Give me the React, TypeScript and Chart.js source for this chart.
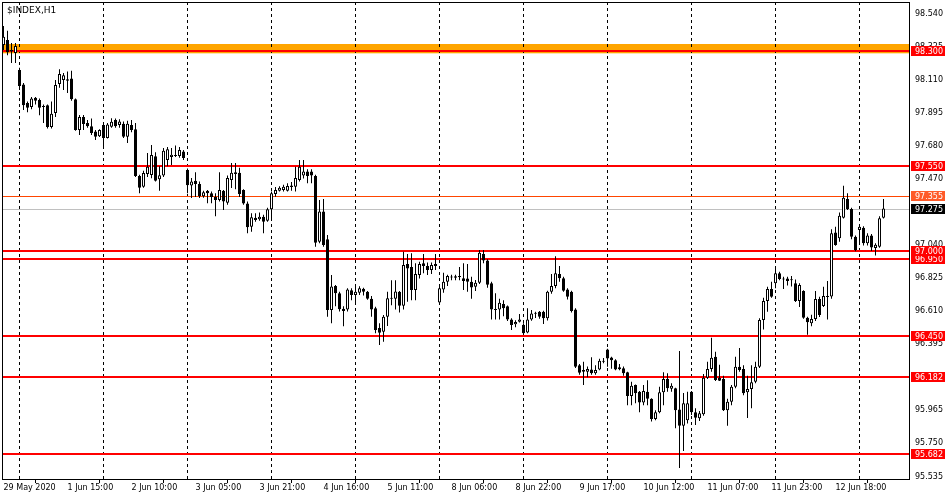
import React, { useEffect, useRef } from "react";
import { Chart, registerables } from "chart.js";

Chart.register(...registerables);

const chartTitle = "$INDEX,H1";

// Hourly candles (H1), oldest first
const opens = [
  98.337, 98.37, 98.305, 98.285, 98.175, 98.08, 97.96, 97.935, 97.995, 97.98,
  97.94, 97.945, 97.805, 97.895, 98.084, 98.11, 98.115, 98.12, 97.985, 97.785,
  97.87, 97.83, 97.81, 97.775, 97.745, 97.817, 97.733, 97.806, 97.85, 97.817,
  97.825, 97.742, 97.817, 97.79, 97.487, 97.417, 97.5, 97.493, 97.615, 97.466,
  97.49, 97.59, 97.61, 97.617, 97.617, 97.645, 97.525, 97.425, 97.455, 97.435,
  97.355, 97.39, 97.375, 97.35, 97.33, 97.39, 97.312, 97.46, 97.51, 97.507,
  97.395, 97.308, 97.157, 97.215, 97.205, 97.222, 97.195, 97.27, 97.37, 97.39,
  97.395, 97.39, 97.415, 97.417, 97.46, 97.49, 97.515, 97.515, 97.487, 97.06,
  97.255, 97.075, 96.616, 96.772, 96.725, 96.625, 96.62, 96.745, 96.713, 96.728,
  96.755, 96.735, 96.69, 96.627, 96.5, 96.475, 96.573, 96.69, 96.69, 96.735,
  96.643, 96.915, 96.895, 96.746, 96.843, 96.92, 96.902, 96.876, 96.915, 96.665,
  96.75, 96.8, 96.83, 96.835, 96.832, 96.822, 96.82, 96.8, 96.767, 96.793,
  96.98, 96.937, 96.79, 96.617, 96.62, 96.655, 96.64, 96.555, 96.523, 96.54,
  96.52, 96.47, 96.555, 96.592, 96.605, 96.605, 96.562, 96.735, 96.772, 96.85,
  96.822, 96.75, 96.735, 96.62, 96.258, 96.226, 96.215, 96.23, 96.205, 96.23,
  96.28, 96.36, 96.308, 96.29, 96.245, 96.238, 96.212, 96.058, 96.13, 96.085,
  96.015, 96.085, 96.04, 95.908, 95.952, 96.082, 96.168, 96.105, 96.108, 95.97,
  95.865, 95.9, 96.085, 95.952, 95.913, 95.94, 96.176, 96.233, 96.313, 96.176,
  96.168, 95.966, 96.02, 96.118, 96.248, 96.233, 96.082, 96.103, 96.15, 96.248,
  96.551, 96.675, 96.752, 96.79, 96.855, 96.818, 96.82, 96.81, 96.79, 96.675,
  96.74, 96.566, 96.53, 96.557, 96.688, 96.642, 96.7, 96.704, 97.12, 97.082,
  97.215, 97.337, 97.272, 97.092, 97.135, 97.15, 97.05, 97.1, 97.018, 97.027,
  97.215,
];

const highs = [
  98.46, 98.43, 98.35, 98.35, 98.19, 98.09, 97.97, 98.0, 98.0, 97.99,
  97.95, 97.95, 97.97, 98.11, 98.18, 98.155, 98.165, 98.17, 97.99, 97.883,
  97.883, 97.85, 97.86, 97.785, 97.79, 97.825, 97.83, 97.862, 97.86, 97.855,
  97.84, 97.845, 97.85, 97.83, 97.495, 97.52, 97.635, 97.688, 97.64, 97.55,
  97.668, 97.675, 97.668, 97.685, 97.675, 97.655, 97.535, 97.473, 97.51, 97.45,
  97.39, 97.395, 97.385, 97.375, 97.51, 97.395, 97.49, 97.57, 97.57, 97.54,
  97.4, 97.32, 97.245, 97.245, 97.25, 97.235, 97.28, 97.385, 97.415, 97.42,
  97.43, 97.44, 97.447, 97.547, 97.59, 97.59, 97.53, 97.53, 97.495, 97.33,
  97.337, 97.103, 96.843, 96.778, 96.735, 96.64, 96.757, 96.757, 96.765, 96.77,
  96.76, 96.74, 96.707, 96.637, 96.53, 96.583, 96.735, 96.81, 96.81, 96.74,
  96.995, 96.98, 96.985, 96.92, 96.93, 96.98, 96.925, 96.925, 96.98, 96.765,
  96.858, 96.845, 96.845, 96.845, 96.895, 96.92, 96.915, 96.832, 96.811, 97.006,
  97.006, 96.945, 96.8, 96.725, 96.69, 96.68, 96.645, 96.562, 96.55, 96.59,
  96.53, 96.627, 96.616, 96.605, 96.61, 96.612, 96.742, 96.85, 96.966, 96.902,
  96.832, 96.757, 96.742, 96.627, 96.265, 96.28, 96.25, 96.31, 96.258, 96.3,
  96.305, 96.365, 96.312, 96.297, 96.265, 96.25, 96.215, 96.15, 96.133, 96.09,
  96.13, 96.16, 96.043, 95.965, 96.118, 96.212, 96.205, 96.14, 96.112, 96.35,
  96.078, 96.085, 96.09, 95.978, 95.96, 96.2, 96.28, 96.436, 96.345, 96.26,
  96.19, 96.04, 96.13, 96.313, 96.37, 96.258, 96.19, 96.258, 96.28, 96.562,
  96.696, 96.767, 96.8, 96.898, 96.865, 96.832, 96.832, 96.837, 96.815, 96.79,
  96.745, 96.573, 96.585, 96.74, 96.703, 96.767, 96.805, 97.14, 97.157, 97.25,
  97.423, 97.374, 97.28, 97.1, 97.172, 97.16, 97.115, 97.11, 97.05, 97.225,
  97.337,
];

const lows = [
  98.305, 98.27, 98.22, 98.22, 98.045, 97.915, 97.9, 97.92, 97.95, 97.88,
  97.83, 97.795, 97.795, 97.87, 98.06, 98.045, 98.025, 97.975, 97.78, 97.752,
  97.785, 97.8, 97.752, 97.72, 97.74, 97.668, 97.73, 97.8, 97.8, 97.8,
  97.733, 97.7, 97.77, 97.48, 97.375, 97.41, 97.48, 97.472, 97.45, 97.39,
  97.48, 97.55, 97.557, 97.61, 97.605, 97.59, 97.375, 97.343, 97.35, 97.343,
  97.345, 97.31, 97.31, 97.225, 97.32, 97.265, 97.3, 97.408, 97.4, 97.35,
  97.3, 97.115, 97.125, 97.19, 97.195, 97.115, 97.19, 97.2, 97.352, 97.385,
  97.385, 97.385, 97.39, 97.385, 97.45, 97.47, 97.44, 97.44, 97.027, 97.05,
  97.027, 96.573, 96.53, 96.64, 96.606, 96.51, 96.607, 96.68, 96.66, 96.713,
  96.71, 96.683, 96.573, 96.465, 96.389, 96.41, 96.512, 96.647, 96.62, 96.6,
  96.62, 96.67, 96.68, 96.68, 96.82, 96.855, 96.843, 96.85, 96.876, 96.66,
  96.728, 96.772, 96.81, 96.81, 96.81, 96.746, 96.735, 96.69, 96.74, 96.785,
  96.92, 96.76, 96.555, 96.555, 96.555, 96.575, 96.545, 96.486, 96.505, 96.535,
  96.455, 96.465, 96.547, 96.565, 96.56, 96.525, 96.548, 96.722, 96.757, 96.8,
  96.735, 96.685, 96.6, 96.24, 96.195, 96.13, 96.18, 96.195, 96.195, 96.225,
  96.27, 96.248, 96.235, 96.225, 96.225, 96.19, 95.997, 95.997, 96.01, 95.953,
  95.997, 95.997, 95.892, 95.9, 95.945, 95.997, 96.085, 96.085, 95.848, 95.59,
  95.7, 95.88, 95.935, 95.87, 95.895, 95.93, 96.168, 96.215, 96.155, 96.155,
  95.96, 95.865, 95.997, 96.108, 96.215, 96.063, 95.915, 95.978, 96.14, 96.24,
  96.49, 96.605, 96.696, 96.757, 96.81, 96.752, 96.775, 96.768, 96.668, 96.635,
  96.56, 96.455, 96.51, 96.545, 96.57, 96.635, 96.555, 96.69, 97.033, 97.06,
  97.21, 97.265, 97.075, 96.998, 97.038, 97.035, 97.035, 97.0, 96.97, 97.02,
  97.21,
];

const closes = [
  98.39, 98.29, 98.295, 98.33, 98.07, 97.945, 97.93, 97.99, 97.975, 97.93,
  97.935, 97.805, 97.89, 98.077, 98.148, 98.14, 98.105, 97.985, 97.785, 97.87,
  97.824, 97.81, 97.765, 97.742, 97.785, 97.733, 97.82, 97.838, 97.81, 97.84,
  97.742, 97.825, 97.785, 97.487, 97.41, 97.506, 97.547, 97.623, 97.455, 97.492,
  97.65, 97.66, 97.625, 97.62, 97.655, 97.603, 97.427, 97.45, 97.435, 97.355,
  97.38, 97.375, 97.35, 97.33, 97.395, 97.32, 97.473, 97.507, 97.5, 97.37,
  97.308, 97.153, 97.218, 97.2, 97.222, 97.19, 97.27, 97.374, 97.395, 97.41,
  97.417, 97.422, 97.425, 97.473, 97.547, 97.515, 97.487, 97.49, 97.053, 97.255,
  97.038, 96.616, 96.768, 96.725, 96.621, 96.61, 96.75, 96.713, 96.735, 96.757,
  96.735, 96.69, 96.62, 96.486, 96.468, 96.573, 96.692, 96.695, 96.737, 96.643,
  96.908, 96.885, 96.746, 96.85, 96.915, 96.902, 96.876, 96.908, 96.902, 96.757,
  96.8, 96.837, 96.828, 96.825, 96.83, 96.805, 96.8, 96.763, 96.793, 96.988,
  96.937, 96.78, 96.62, 96.622, 96.663, 96.627, 96.555, 96.518, 96.538, 96.555,
  96.465, 96.555, 96.594, 96.596, 96.573, 96.562, 96.735, 96.772, 96.855, 96.822,
  96.742, 96.703, 96.61, 96.248, 96.208, 96.215, 96.233, 96.205, 96.226, 96.287,
  96.285, 96.302, 96.29, 96.23, 96.232, 96.205, 96.058, 96.125, 96.075, 96.015,
  96.09, 96.04, 95.908, 95.952, 96.082, 96.168, 96.108, 96.125, 95.966, 95.865,
  96.01, 96.01, 95.952, 95.917, 95.945, 96.176, 96.233, 96.306, 96.161, 96.157,
  95.966, 96.02, 96.118, 96.248, 96.226, 96.075, 96.103, 96.147, 96.248, 96.551,
  96.675, 96.752, 96.703, 96.855, 96.818, 96.815, 96.805, 96.815, 96.675, 96.778,
  96.566, 96.537, 96.557, 96.688, 96.584, 96.707, 96.705, 97.115, 97.038, 97.228,
  97.345, 97.272, 97.092, 97.006, 97.157, 97.05, 97.1, 97.022, 97.04, 97.212,
  97.275,
];

// Time axis labels (bar index -> text)
const timeLabelBars = [0, 16, 32, 48, 64, 80, 96, 112, 128, 144, 160, 176, 192, 208];
const timeLabels = [
  "29 May 2020", "1 Jun 15:00", "2 Jun 10:00", "3 Jun 05:00", "3 Jun 21:00",
  "4 Jun 16:00", "5 Jun 11:00", "8 Jun 06:00", "8 Jun 22:00", "9 Jun 17:00",
  "10 Jun 12:00", "11 Jun 07:00", "11 Jun 23:00", "12 Jun 18:00",
];

// Price axis ticks
const priceTicks = [98.54, 98.325, 98.11, 97.895, 97.68, 97.47, 97.255, 97.04, 96.825, 96.61, 96.395, 96.18, 95.965, 95.75, 95.535];
const priceTickLabels = ["98.540", "98.325", "98.110", "97.895", "97.680", "97.470", "97.255", "97.040", "96.825", "96.610", "96.395", "96.180", "95.965", "95.750", "95.535"];

// Day separators: first separator bar and bars per session
const firstSeparatorBar = 4;
const barsPerSession = 21;

// Horizontal levels
const redLevels = [98.3, 97.55, 96.95, 97.0, 96.45, 96.182, 95.682];
const zoneTop = 98.3435;
const zoneBottom = 98.283;
const targetLevel = 97.355;
const bidLevel = 97.275;

const FONT = '"DejaVu Sans", sans-serif';

const overlayPlugin = {
  id: "mtOverlay",
  beforeDatasetsDraw(chart: any) {
    const { ctx, chartArea: a, scales } = chart;
    const x = scales.x;
    const y = scales.y;
    ctx.save();
    ctx.beginPath();
    ctx.rect(a.left, a.top, a.right - a.left, a.bottom - a.top);
    ctx.clip();

    // supply zone
    const zt = y.getPixelForValue(zoneTop);
    const zb = y.getPixelForValue(zoneBottom);
    ctx.fillStyle = "#FFA500";
    ctx.fillRect(a.left, zt, a.right - a.left, zb - zt);

    // day separators
    ctx.strokeStyle = "#000";
    ctx.lineWidth = 1;
    ctx.setLineDash([3, 3]);
    for (let k = firstSeparatorBar; k < opens.length; k += barsPerSession) {
      const px = x.getPixelForValue(k);
      ctx.beginPath();
      ctx.moveTo(px, a.top);
      ctx.lineTo(px, a.bottom);
      ctx.stroke();
    }
    ctx.setLineDash([]);

    const hline = (price: number, color: string, width: number) => {
      const py = y.getPixelForValue(price);
      const yy = width % 2 === 1 ? Math.round(py) + 0.5 : Math.round(py);
      ctx.strokeStyle = color;
      ctx.lineWidth = width;
      ctx.beginPath();
      ctx.moveTo(a.left, yy);
      ctx.lineTo(a.right, yy);
      ctx.stroke();
    };
    hline(bidLevel, "#C0C0C0", 1);
    hline(targetLevel, "#FF4500", 1);
    redLevels.forEach((p) => hline(p, "#FF0000", 2));
    ctx.restore();
  },
  afterDraw(chart: any) {
    const { ctx, chartArea: a, scales } = chart;
    const y = scales.y;
    ctx.save();
    // frame
    ctx.strokeStyle = "#000";
    ctx.lineWidth = 1;
    ctx.beginPath();
    ctx.moveTo(a.left - 0.5, a.top + 0.5);
    ctx.lineTo(a.right + 0.5, a.top + 0.5);
    ctx.moveTo(a.left - 0.5, a.top);
    ctx.lineTo(a.left - 0.5, a.bottom + 1);
    ctx.moveTo(a.right + 0.5, a.top);
    ctx.lineTo(a.right + 0.5, a.bottom + 1);
    ctx.moveTo(a.left - 1, a.bottom + 0.5);
    ctx.lineTo(a.right + 1, a.bottom + 0.5);
    ctx.stroke();

    // title
    ctx.fillStyle = "#000";
    ctx.font = `9px ${FONT}`;
    ctx.textBaseline = "middle";
    ctx.textAlign = "left";
    ctx.fillText(chartTitle, a.left + 4, a.top + 9);

    // price labels on axis
    const boxes: [number, string, string][] = [
      ...redLevels.map((p) => [p, "#FF0000", "#FFFFFF"] as [number, string, string]),
      [targetLevel, "#FF5A28", "#FFFFFF"],
      [bidLevel, "#000000", "#FFFFFF"],
    ];
    ctx.font = `8px ${FONT}`;
    boxes.forEach(([p, bg, fg]) => {
      const py = Math.round(y.getPixelForValue(p));
      ctx.fillStyle = bg;
      ctx.fillRect(a.right + 2, py - 5, 34, 10);
      ctx.fillStyle = fg;
      ctx.fillText(p.toFixed(3), a.right + 6, py + 0.5);
    });
    ctx.restore();
  },
};

export default function App() {
  const canvasRef = useRef<HTMLCanvasElement | null>(null);

  useEffect(() => {
    const canvas = canvasRef.current;
    if (!canvas) return;
    Chart.defaults.font.family = FONT;
    const chart = new Chart(canvas, {
      type: "bar",
      data: {
        datasets: [
          {
            label: "wicks",
            data: opens.map((_, i) => ({ x: i, y: [lows[i], highs[i]] })) as any,
            backgroundColor: "#000000",
            borderWidth: 0,
            barThickness: 1,
            grouped: false,
            inflateAmount: 0,
            order: 2,
          } as any,
          {
            label: "bodies",
            data: opens.map((o, i) => ({ x: i, y: [o, closes[i]] })) as any,
            backgroundColor: opens.map((o, i) => (closes[i] >= o ? "#FFFFFF" : "#000000")),
            borderColor: "#000000",
            borderWidth: 1,
            borderSkipped: false,
            barThickness: 3,
            minBarLength: 1,
            grouped: false,
            inflateAmount: 0,
            order: 1,
          } as any,
        ],
      },
      options: {
        animation: false,
        responsive: false,
        events: [],
        layout: { padding: { left: 3, top: 2, right: 0, bottom: 0 } },
        plugins: {
          legend: { display: false },
          tooltip: { enabled: false },
          title: { display: false },
        },
        scales: {
          x: {
            type: "linear",
            min: -0.125,
            max: 226.375,
            offset: false,
            bounds: "data",
            border: { display: false },
            grid: {
              drawOnChartArea: false,
              drawTicks: true,
              tickLength: 4,
              color: "#000000",
            },
            ticks: {
              autoSkip: false,
              maxRotation: 0,
              minRotation: 0,
              align: "start",
              padding: 0,
              color: "#000000",
              font: { family: FONT, size: 8 },
              callback: (_v: any, i: number) => timeLabels[i] ?? "",
            },
            afterBuildTicks: (s: any) => {
              s.ticks = timeLabelBars.map((v) => ({ value: v }));
            },
            afterFit: (s: any) => {
              s.height = 21;
              s.paddingLeft = 0;
              s.paddingRight = 0;
            },
          } as any,
          y: {
            type: "linear",
            position: "right",
            min: 95.5188,
            max: 98.6162,
            bounds: "data",
            border: { display: false },
            grid: { display: false, drawTicks: false, tickLength: 0 },
            ticks: {
              autoSkip: false,
              padding: 6,
              color: "#000000",
              font: { family: FONT, size: 8 },
              callback: (_v: any, i: number) => priceTickLabels[i] ?? "",
            },
            afterBuildTicks: (s: any) => {
              s.ticks = priceTicks.map((v) => ({ value: v }));
            },
            afterFit: (s: any) => {
              s.width = 41;
              s.paddingTop = 0;
              s.paddingBottom = 0;
            },
          } as any,
        },
      },
      plugins: [overlayPlugin],
    });
    return () => chart.destroy();
  }, []);

  return (
    <div style={{ position: "fixed", left: 0, top: 0, width: 950, height: 500, background: "#FFFFFF" }}>
      <canvas ref={canvasRef} width={950} height={500} style={{ display: "block", width: 950, height: 500 }} />
    </div>
  );
}
